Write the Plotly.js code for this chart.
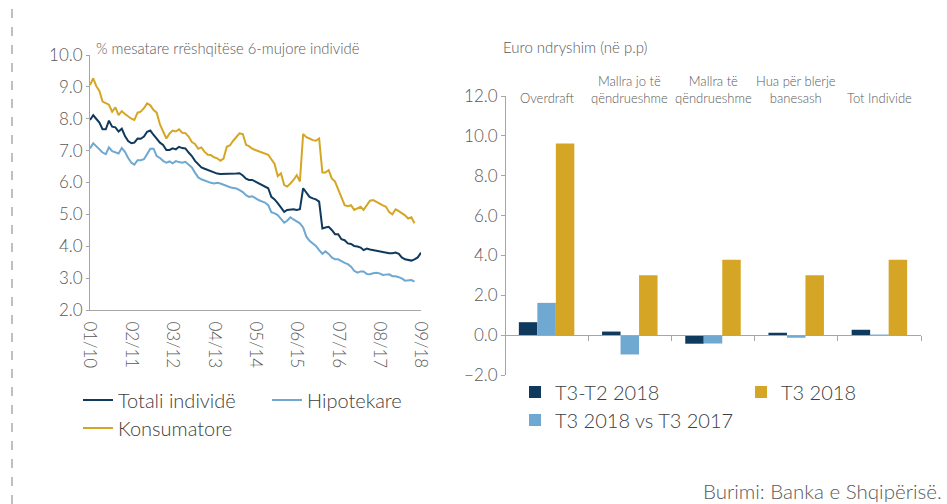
<!DOCTYPE html>
<html>
<head>
<meta charset="utf-8">
<script src="https://cdn.plot.ly/plotly-3.0.1.min.js"></script>
<style>
html,body{margin:0;padding:0;background:#fff;}
#chart{width:947px;height:504px;}
</style>
</head>
<body>
<div id="chart"></div>
<script>
// ---- Left chart data (monthly, 01/2010 .. 09/2018) ----
const startYear = 2010;
const monthCount = 105;
const months = [];
for (let i = 0; i < monthCount; i++) {
  const y = startYear + Math.floor(i / 12);
  const m = (i % 12) + 1;
  months.push(y + '-' + (m < 10 ? '0' + m : m) + '-01');
}
const tickDates = ['2010-01-01','2011-02-01','2012-03-01','2013-04-01','2014-05-01','2015-06-01','2016-07-01','2017-08-01','2018-09-01'];
const tickLabels = ['01/10','02/11','03/12','04/13','05/14','06/15','07/16','08/17','09/18'];

const totali = [7.96,8.11,8.00,7.88,7.67,7.67,7.94,7.75,7.73,7.60,
7.69,7.46,7.30,7.23,7.25,7.38,7.37,7.44,7.59,7.63,
7.49,7.38,7.25,7.18,7.02,7.02,7.07,7.04,7.12,7.08,
7.07,6.94,6.83,6.68,6.58,6.47,6.43,6.39,6.35,6.31,
6.28,6.27,6.27,6.26,6.27,6.27,6.28,6.29,6.22,6.12,
6.08,6.08,6.03,5.97,5.93,5.89,5.82,5.55,5.47,5.35,
5.22,5.08,5.14,5.16,5.16,5.14,5.16,5.82,5.70,5.55,
5.50,5.47,5.40,4.56,4.59,4.61,4.51,4.38,4.38,4.22,
4.19,4.09,4.07,4.01,3.99,3.96,3.88,3.93,3.90,3.88,
3.86,3.82,3.80,3.78,3.78,3.78,3.80,3.76,3.65,3.59,
3.57,3.55,3.59,3.65,3.80];

const hipotekare = [7.07,7.23,7.14,7.04,6.94,6.89,7.10,6.98,6.94,6.91,
7.08,6.96,6.77,6.62,6.56,6.70,6.70,6.73,6.89,7.06,
7.06,6.83,6.77,6.68,6.62,6.66,6.60,6.67,6.64,6.62,
6.65,6.56,6.47,6.31,6.16,6.10,6.06,6.01,5.99,5.97,
5.99,5.97,5.93,5.87,5.85,5.83,5.81,5.76,5.70,5.60,
5.55,5.57,5.50,5.45,5.41,5.37,5.29,5.07,5.03,4.98,
4.86,4.74,4.80,4.91,4.84,4.78,4.72,4.59,4.30,4.17,
4.09,4.01,3.88,3.76,3.84,3.76,3.65,3.59,3.59,3.53,
3.48,3.44,3.36,3.23,3.17,3.21,3.21,3.13,3.12,3.15,
3.17,3.15,3.10,3.11,3.12,3.06,3.06,3.03,2.99,2.92,
2.92,2.94,2.89];

const konsumatore = [9.06,9.27,9.03,8.87,8.54,8.48,8.44,8.22,8.36,8.11,
8.24,8.15,8.06,8.00,7.96,8.19,8.22,8.33,8.48,8.42,
8.27,8.19,7.82,7.59,7.38,7.54,7.63,7.60,7.67,7.56,
7.55,7.44,7.27,7.21,7.06,7.10,6.96,6.87,6.86,6.79,
6.76,6.68,6.75,7.12,7.17,7.31,7.44,7.54,7.52,7.18,
7.14,7.06,7.02,6.98,6.94,6.91,6.87,6.73,6.58,6.20,
6.29,5.92,5.87,5.97,6.08,6.23,6.03,7.52,7.42,7.38,
7.33,7.31,7.38,6.31,6.31,6.39,6.13,6.03,5.78,5.55,
5.29,5.26,5.29,5.14,5.19,5.24,5.14,5.29,5.43,5.45,
5.39,5.32,5.28,5.24,5.07,5.00,5.16,5.10,5.05,4.97,
4.87,4.91,4.72];

// ---- Right chart data ----
const categories = ['Overdraft','Mallra jo të<br>qëndrueshme','Mallra të<br>qëndrueshme','Hua për blerje<br>banesash','Tot Individe'];
const t3t2_2018 = [0.65, 0.18, -0.43, 0.12, 0.27];
const t3_2018_vs_2017 = [1.62, -0.97, -0.42, -0.13, 0.03];
const t3_2018 = [9.62, 3.0, 3.78, 3.0, 3.78];

const C_DARK = '#0f3a5e', C_LIGHT = '#6fa8d1', C_GOLD = '#d5a626';
const FONT = 'Lato, "Open Sans", sans-serif';
const WT = 300;
const TXT = '#595959';
const AX = '#a6a6a6';
const W = 947, H = 504;
const px = v => v / W;
const py = v => 1 - v / H;

const traces = [
  {x: months.slice(0, totali.length), y: totali, name: 'Totali individë', type: 'scatter', mode: 'lines',
   line: {color: C_DARK, width: 2}, xaxis: 'x', yaxis: 'y', legend: 'legend', legendwidth: 144},
  {x: months.slice(0, hipotekare.length), y: hipotekare, name: 'Hipotekare', type: 'scatter', mode: 'lines',
   line: {color: C_LIGHT, width: 2}, xaxis: 'x', yaxis: 'y', legend: 'legend'},
  {x: months.slice(0, konsumatore.length), y: konsumatore, name: 'Konsumatore', type: 'scatter', mode: 'lines',
   line: {color: C_GOLD, width: 2}, xaxis: 'x', yaxis: 'y', legend: 'legend3'},
  {x: categories, y: t3t2_2018, name: 'T3-T2 2018', type: 'bar', marker: {color: C_DARK},
   xaxis: 'x2', yaxis: 'y2', legend: 'legend2', legendwidth: 181},
  {x: categories, y: t3_2018_vs_2017, name: 'T3 2018 vs T3 2017', type: 'bar', marker: {color: C_LIGHT},
   xaxis: 'x2', yaxis: 'y2', legend: 'legend4'},
  {x: categories, y: t3_2018, name: 'T3 2018', type: 'bar', marker: {color: C_GOLD},
   xaxis: 'x2', yaxis: 'y2', legend: 'legend2'}
];

const yTop2 = 96, yBot2 = 375;
const dom2 = [py(yBot2), py(yTop2)];
const zeroPos = dom2[0] + (2 / 14) * (dom2[1] - dom2[0]);

const annotations = categories.map(c => ({
  text: c, x: c, xref: 'x2', y: 12, yref: 'y2', yanchor: 'bottom', yshift: -12,
  showarrow: false, font: {family: FONT, size: 13, color: TXT, weight: WT}, align: 'center'
}));
annotations.push({text: '% mesatare rrëshqitëse 6-mujore individë', x: px(94), y: py(48), xref: 'paper', yref: 'paper',
  xanchor: 'left', yanchor: 'middle', showarrow: false, font: {family: FONT, size: 14.8, color: TXT, weight: WT}});
annotations.push({text: 'Euro ndryshim (në p.p)', x: px(501), y: py(47), xref: 'paper', yref: 'paper',
  xanchor: 'left', yanchor: 'middle', showarrow: false, font: {family: FONT, size: 15, color: TXT, weight: WT}});
annotations.push({text: 'Burimi: Banka e Shqipërisë.', x: px(944), y: py(491), xref: 'paper', yref: 'paper',
  xanchor: 'right', yanchor: 'middle', showarrow: false, font: {family: FONT, size: 20.5, color: TXT, weight: WT}});

const legendBase = {orientation: 'h', xanchor: 'left', yanchor: 'middle', bgcolor: 'rgba(0,0,0,0)',
  font: {family: FONT, size: 20, color: '#404040', weight: WT}, entrywidthmode: 'pixels'};

const tf = {family: FONT, size: 17, color: TXT, weight: WT};

const layout = {
  width: W, height: H,
  margin: {l: 0, r: 0, t: 0, b: 0, autoexpand: false},
  paper_bgcolor: '#fff', plot_bgcolor: '#fff',
  font: {family: FONT, color: TXT, weight: WT},
  barmode: 'group', bargap: 0.333, bargroupgap: 0,
  xaxis: {
    domain: [px(90), px(421)], anchor: 'y', type: 'date',
    range: ['2010-01-01', '2018-09-01'],
    tickmode: 'array', tickvals: tickDates, ticktext: tickLabels, tickangle: 90,
    ticks: '', showgrid: false, zeroline: false, showline: true, linecolor: AX, linewidth: 1,
    tickfont: tf, ticklabelstandoff: 7
  },
  yaxis: {
    domain: [py(310), py(55)], anchor: 'x', range: [2, 10], dtick: 1, tickformat: '.1f',
    ticks: 'outside', ticklen: 3, tickcolor: AX, showgrid: false, zeroline: false,
    showline: true, linecolor: AX, linewidth: 1, tickfont: tf
  },
  xaxis2: {
    domain: [px(505), px(921)], anchor: 'free', position: zeroPos, type: 'category',
    showticklabels: false, ticks: 'outside', tickson: 'boundaries', ticklen: 5, tickcolor: AX,
    showgrid: false, zeroline: false, showline: true, linecolor: AX, linewidth: 1
  },
  yaxis2: {
    domain: dom2, anchor: 'free', position: px(505), range: [-2, 12], dtick: 2, tickformat: '.1f',
    ticks: 'outside', ticklen: 4, tickcolor: AX, showgrid: false, zeroline: false,
    showline: true, linecolor: AX, linewidth: 1, tickfont: tf
  },
  legend: Object.assign({}, legendBase, {x: px(78), y: py(400)}),
  legend3: Object.assign({}, legendBase, {x: px(78), y: py(428)}),
  legend2: Object.assign({}, legendBase, {x: px(515), y: py(392)}),
  legend4: Object.assign({}, legendBase, {x: px(515), y: py(420)}),
  annotations: annotations,
  shapes: [{type: 'line', xref: 'paper', yref: 'paper', x0: px(12), x1: px(12), y0: 0, y1: 1,
    line: {color: '#808080', width: 1, dash: 'dash'}}]
};

Plotly.newPlot('chart', traces, layout, {displayModeBar: false, staticPlot: true});
</script>
</body>
</html>
